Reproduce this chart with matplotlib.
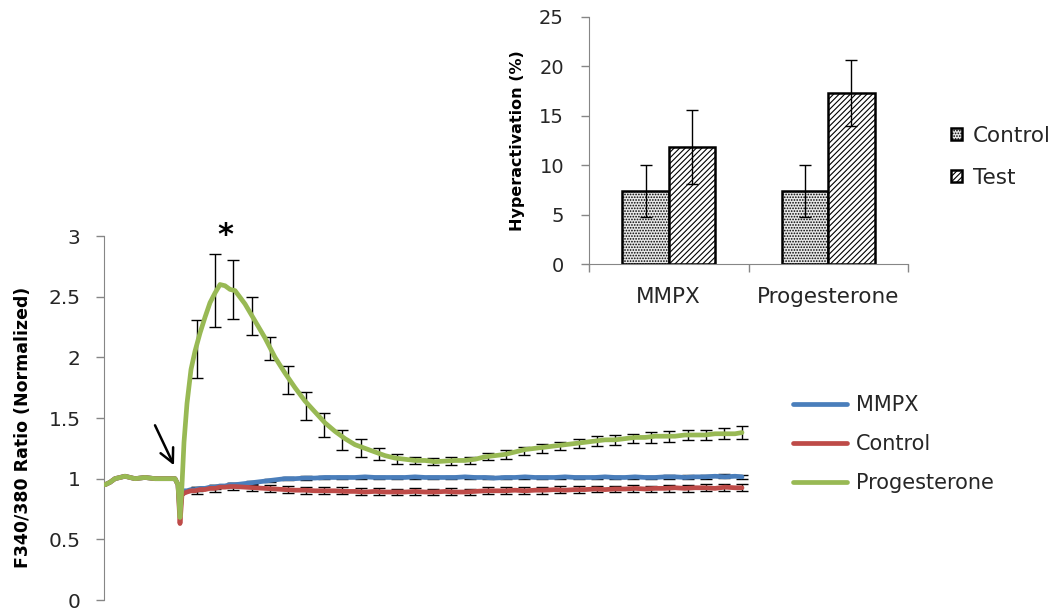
import numpy as np
import matplotlib
matplotlib.use("Agg")
import matplotlib.pyplot as plt

# ---------------- data: main time course ----------------
time_s = [0, 5, 10, 20, 30, 40, 50, 60, 70, 73, 75, 77, 79, 82, 86, 90, 95, 100, 105,
          110, 115, 120, 125, 130, 140, 150, 160, 170, 180, 190, 200, 210, 220, 230,
          240, 250, 260, 270, 280, 290, 300, 310, 320, 330, 340, 350, 360, 370, 380,
          390, 400, 410, 420, 430, 440, 450, 460, 470, 480, 490, 500, 510, 520, 530,
          540, 550, 560, 570, 580, 590, 600, 610, 620, 630, 637]

progesterone = [0.95, 0.97, 1.0, 1.02, 1.0, 1.01, 1.0, 1.0, 1.0, 0.95, 0.68, 0.95, 1.3,
                1.62, 1.9, 2.05, 2.2, 2.33, 2.45, 2.53, 2.6, 2.59, 2.56, 2.55, 2.44, 2.3,
                2.16, 2.0, 1.87, 1.75, 1.64, 1.55, 1.46, 1.39, 1.33, 1.28, 1.25, 1.22,
                1.19, 1.17, 1.16, 1.15, 1.15, 1.14, 1.145, 1.15, 1.15, 1.16, 1.18, 1.19,
                1.2, 1.22, 1.24, 1.25, 1.26, 1.27, 1.28, 1.29, 1.3, 1.31, 1.32, 1.32,
                1.33, 1.34, 1.34, 1.35, 1.35, 1.35, 1.36, 1.36, 1.36, 1.37, 1.37, 1.37,
                1.38]

mmpx = [0.95, 0.97, 1.0, 1.02, 1.0, 1.01, 1.0, 1.0, 1.0, 0.95, 0.72, 0.9, 0.9, 0.9,
        0.91, 0.91, 0.92, 0.92, 0.93, 0.93, 0.94, 0.94, 0.95, 0.95, 0.96, 0.97, 0.98,
        0.99, 1.0, 1.0, 1.005, 1.005, 1.01, 1.01, 1.01, 1.01, 1.015, 1.01, 1.01, 1.01,
        1.01, 1.015, 1.01, 1.01, 1.01, 1.01, 1.015, 1.01, 1.01, 1.005, 1.01, 1.01,
        1.015, 1.01, 1.01, 1.01, 1.015, 1.01, 1.01, 1.01, 1.015, 1.01, 1.01, 1.015,
        1.01, 1.01, 1.015, 1.015, 1.01, 1.015, 1.015, 1.02, 1.015, 1.02, 1.015]

control = [0.95, 0.97, 1.0, 1.02, 1.0, 1.01, 1.0, 1.0, 1.0, 0.95, 0.63, 0.87, 0.88, 0.89,
           0.9, 0.9, 0.91, 0.91, 0.92, 0.92, 0.93, 0.93, 0.935, 0.935, 0.93, 0.925,
           0.92, 0.915, 0.91, 0.905, 0.905, 0.9, 0.9, 0.9, 0.895, 0.895, 0.89, 0.895,
           0.89, 0.89, 0.89, 0.895, 0.89, 0.89, 0.895, 0.89, 0.89, 0.895, 0.9, 0.9,
           0.9, 0.905, 0.9, 0.905, 0.905, 0.91, 0.905, 0.91, 0.91, 0.915, 0.91, 0.915,
           0.915, 0.92, 0.915, 0.92, 0.92, 0.925, 0.92, 0.925, 0.925, 0.92, 0.93,
           0.925, 0.925]

# error bars (positions, centres, half-widths)
err_time = [92, 110, 128, 147, 165, 183, 201, 219, 237, 256, 274, 292, 310, 328, 346,
            365, 383, 401, 419, 437, 455, 474, 492, 510, 528, 546, 564, 583, 601, 619, 637]
prog_err_mean = [2.07, 2.55, 2.56, 2.34, 2.07, 1.81, 1.6, 1.44, 1.32, 1.25, 1.2, 1.16,
                 1.15, 1.14, 1.145, 1.15, 1.18, 1.2, 1.23, 1.25, 1.27, 1.29, 1.31, 1.32,
                 1.33, 1.34, 1.35, 1.36, 1.36, 1.37, 1.38]
prog_err = [0.24, 0.30, 0.24, 0.16, 0.095, 0.115, 0.115, 0.10, 0.085, 0.075, 0.05, 0.04,
            0.03, 0.03, 0.03, 0.03, 0.03, 0.035, 0.035, 0.035, 0.035, 0.04, 0.04, 0.04,
            0.04, 0.045, 0.045, 0.045, 0.045, 0.045, 0.05]
mmpx_err_mean = [0.915, 0.93, 0.95, 0.965, 0.985, 1.0, 1.005, 1.01, 1.01, 1.01, 1.01,
                 1.01, 1.01, 1.01, 1.01, 1.01, 1.01, 1.01, 1.01, 1.01, 1.01, 1.01, 1.01,
                 1.01, 1.01, 1.01, 1.015, 1.015, 1.015, 1.02, 1.015]
mmpx_err = [0.015] * 31
ctrl_err_mean = [0.9, 0.92, 0.935, 0.93, 0.92, 0.91, 0.905, 0.9, 0.9, 0.895, 0.893, 0.89,
                 0.895, 0.89, 0.893, 0.89, 0.9, 0.9, 0.9, 0.905, 0.91, 0.91, 0.915, 0.915,
                 0.92, 0.915, 0.92, 0.92, 0.925, 0.93, 0.925]
ctrl_err = [0.028] * 31

series_names = ["MMPX", "Control", "Progesterone"]
series_colors = ["#4A7EBB", "#BE4B48", "#98B954"]

# ---------------- data: inset bar chart ----------------
bar_categories = ["MMPX", "Progesterone"]
bar_control = [7.4, 7.4]
bar_control_err = [2.65, 2.65]
bar_test = [11.85, 17.3]
bar_test_err = [3.75, 3.3]

# ---------------- figure ----------------
W, H = 1058, 612
fig = plt.figure(figsize=(W / 100, H / 100), dpi=100)
plt.rcParams['hatch.linewidth'] = 0.8

axis_grey = "#868686"
txt_col = "#262626"

ax = fig.add_axes([104 / W, 12 / H, 646 / W, 364 / H])
ys = [mmpx, control, progesterone]
errm = [mmpx_err_mean, ctrl_err_mean, prog_err_mean]
errs = [mmpx_err, ctrl_err, prog_err]
for name, col, y, em, ee in zip(series_names, series_colors, ys, errm, errs):
    ax.errorbar(err_time, em, yerr=ee, fmt='none', ecolor='black', elinewidth=1.0,
                capsize=4.5, capthick=1.0, zorder=2)
for name, col, y in zip(series_names, series_colors, ys):
    ax.plot(time_s, y, color=col, lw=3.4, label=name, zorder=3,
            solid_capstyle='round', solid_joinstyle='round')

ax.set_xlim(-1, 645)
ax.set_ylim(0, 3)
ax.set_yticks([0, 0.5, 1, 1.5, 2, 2.5, 3])
ax.set_yticklabels(["0", "0.5", "1", "1.5", "2", "2.5", "3"])
for s in ["top", "right", "bottom"]:
    ax.spines[s].set_visible(False)
ax.spines["left"].set_color(axis_grey)
ax.tick_params(axis='y', direction='out', length=6, width=1, color=axis_grey,
               pad=11, labelsize=14.5, labelcolor=txt_col)
ax.set_xticks([])
ax.set_ylabel("F340/380 Ratio (Normalized)", fontsize=12.5, fontweight='bold',
              color='black')
ax.yaxis.set_label_coords(-0.111, 0.475)

# stimulus arrow and significance mark
ax.annotate("", xy=(69, 1.11), xytext=(50, 1.44),
            arrowprops=dict(arrowstyle="->,head_length=1.0,head_width=0.5",
                            color="black", lw=1.8, shrinkA=0, shrinkB=0))
ax.text(120, 3.0, "*", fontsize=22, fontweight='bold', ha='center', va='center',
        clip_on=False)

leg = ax.legend(loc='upper left', bbox_to_anchor=(793 / W, (612 - 395) / H),
                bbox_transform=fig.transFigure, frameon=False, fontsize=15,
                handlelength=2.6, handletextpad=0.4, labelspacing=0.92,
                borderaxespad=0, borderpad=0)
for t in leg.get_texts():
    t.set_color(txt_col)

# ---------------- inset ----------------
ax2 = fig.add_axes([589 / W, (612 - 264.3) / H, 319 / W, 247.6 / H])
xc = np.arange(len(bar_categories))
bw = 0.29
ax2.bar(xc - bw / 2, bar_control, width=bw, facecolor="#e8e8e8", edgecolor="black",
        hatch="......", linewidth=1.8, label="Control", zorder=2)
ax2.bar(xc + bw / 2, bar_test, width=bw, facecolor="white", edgecolor="black",
        hatch="//////", linewidth=1.8, label="Test", zorder=2)
ax2.errorbar(xc - bw / 2, bar_control, yerr=bar_control_err, fmt='none',
             ecolor='black', elinewidth=1.0, capsize=4.5, capthick=1.0, zorder=3)
ax2.errorbar(xc + bw / 2, bar_test, yerr=bar_test_err, fmt='none',
             ecolor='black', elinewidth=1.0, capsize=4.5, capthick=1.0, zorder=3)
ax2.set_xlim(-0.5, 1.5)
ax2.set_ylim(0, 25)
ax2.set_yticks([0, 5, 10, 15, 20, 25])
for s in ["top", "right"]:
    ax2.spines[s].set_visible(False)
ax2.spines["left"].set_color(axis_grey)
ax2.spines["bottom"].set_color(axis_grey)
ax2.tick_params(axis='y', direction='out', length=6, width=1, color=axis_grey,
                pad=12, labelsize=14, labelcolor=txt_col)
ax2.set_xticks([-0.5, 0.5, 1.5])
ax2.set_xticklabels([])
ax2.set_xticks(xc, minor=True)
ax2.set_xticklabels(bar_categories, minor=True)
ax2.tick_params(axis='x', which='major', direction='out', length=6, width=1,
                color=axis_grey)
ax2.tick_params(axis='x', which='minor', length=0, pad=16, labelsize=15.5,
                labelcolor=txt_col)
ax2.set_ylabel("Hyperactivation (%)", fontsize=11.5, fontweight='bold', color='black')
ax2.yaxis.set_label_coords(-0.2, 0.5)

leg2 = ax2.legend(loc='upper left', bbox_to_anchor=(951 / W, (612 - 126) / H),
                  bbox_transform=fig.transFigure, frameon=False, fontsize=15.5,
                  handlelength=0.5, handleheight=0.5, handletextpad=0.5,
                  labelspacing=1.0, borderaxespad=0, borderpad=0)
for t in leg2.get_texts():
    t.set_color(txt_col)

fig.savefig("out.png", dpi=100)
